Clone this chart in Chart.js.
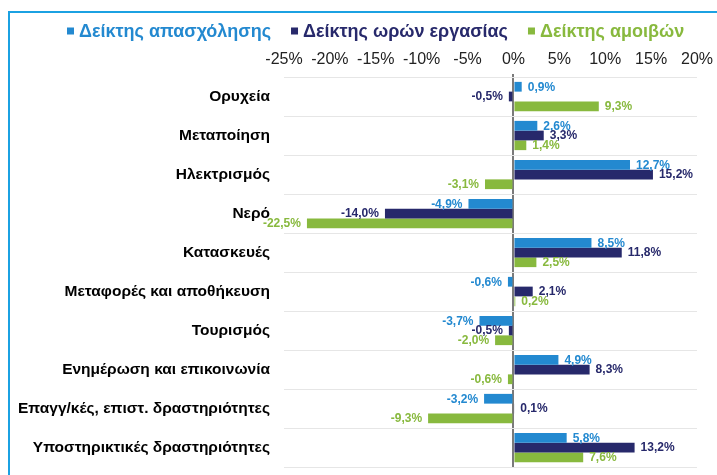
<!DOCTYPE html>
<html><head><meta charset="utf-8">
<script src="https://cdn.jsdelivr.net/npm/chart.js@4"></script>
<style>
html,body{margin:0;padding:0;background:#fff;overflow:hidden}
#wrap{position:absolute;left:0;top:0;width:717px;height:475px}
#frame{position:absolute;left:8px;top:11px;width:800px;height:600px;border-left:2px solid #1BA1E2;border-top:2px solid #1BA1E2}
canvas{position:absolute;left:0;top:0}
</style></head><body>
<div id="wrap"><div id="frame"></div><canvas id="c" width="717" height="475"></canvas></div>
<script>
const categories = ['Ορυχεία','Μεταποίηση','Ηλεκτρισμός','Νερό','Κατασκευές','Μεταφορές και αποθήκευση','Τουρισμός','Ενημέρωση και επικοινωνία','Επαγγ/κές, επιστ. δραστηριότητες','Υποστηρικτικές δραστηριότητες'];
const employment = [0.9, 2.6, 12.7, -4.9, 8.5, -0.6, -3.7, 4.9, -3.2, 5.8];
const hours = [-0.5, 3.3, 15.2, -14.0, 11.8, 2.1, -0.5, 8.3, 0.1, 13.2];
const wages = [9.3, 1.4, -3.1, -22.5, 2.5, 0.2, -2.0, -0.6, -9.3, 7.6];
const seriesNames = ['Δείκτης απασχόλησης','Δείκτης ωρών εργασίας','Δείκτης αμοιβών'];
const seriesColors = ['#2389D0','#27296B','#88B93E'];
const xTicks = [-25,-20,-15,-10,-5,0,5,10,15,20];

const fmt = v => v.toFixed(1).replace('.', ',') + '%';

function hasFont(name) {
  const c = document.createElement('canvas').getContext('2d');
  const s = 'abcdefghijklm0123456789%';
  c.font = '20px monospace';
  const w0 = c.measureText(s).width;
  c.font = '20px "' + name + '", monospace';
  return Math.abs(c.measureText(s).width - w0) > 0.5;
}
const narrow = hasFont('Liberation Sans Narrow');
const tickFont = narrow ? { family: '"Liberation Sans Narrow"', size: 18 } : { family: '"Liberation Sans", Arial, sans-serif', size: 16 };
const labelFontCss = narrow ? 'bold 14px "Liberation Sans Narrow"' : 'bold 12px "Liberation Sans", Arial, sans-serif';

const valueLabels = {
  id: 'valueLabels',
  afterDatasetsDraw(chart) {
    const ctx = chart.ctx;
    ctx.save();
    ctx.font = labelFontCss;
    ctx.textBaseline = 'middle';
    chart.data.datasets.forEach((ds, i) => {
      const meta = chart.getDatasetMeta(i);
      meta.data.forEach((el, j) => {
        const v = ds.data[j];
        ctx.fillStyle = ds.backgroundColor;
        if (v >= 0) { ctx.textAlign = 'left'; ctx.fillText(fmt(v), el.x + 6, el.y + 0.5); }
        else { ctx.textAlign = 'right'; ctx.fillText(fmt(v), el.x - 6, el.y + 0.5); }
      });
    });
    ctx.restore();
  }
};

const customLegend = {
  id: 'customLegend',
  afterDraw(chart) {
    const ctx = chart.ctx;
    ctx.save();
    ctx.font = 'bold 18px "Liberation Sans", Arial, sans-serif';
    ctx.textBaseline = 'middle';
    ctx.textAlign = 'left';
    let x = 67;
    const y = 31;
    chart.data.datasets.forEach(ds => {
      ctx.fillStyle = ds.backgroundColor;
      ctx.fillRect(x, y - 3.5, 7, 7);
      const t = ds.label;
      ctx.fillText(t, x + 12, y + 1);
      x += 12 + ctx.measureText(t).width + 20;
    });
    ctx.restore();
  }
};

new Chart(document.getElementById('c'), {
  type: 'bar',
  data: {
    labels: categories,
    datasets: [
      { label: seriesNames[0], data: employment, backgroundColor: seriesColors[0] },
      { label: seriesNames[1], data: hours, backgroundColor: seriesColors[1] },
      { label: seriesNames[2], data: wages, backgroundColor: seriesColors[2] }
    ]
  },
  options: {
    indexAxis: 'y',
    responsive: false,
    animation: false,
    devicePixelRatio: 1,
    layout: { padding: { left: 0, right: 20, top: 0, bottom: 8 } },
    datasets: { bar: { categoryPercentage: 0.75, barPercentage: 1.0 } },
    plugins: { legend: { display: false }, tooltip: { enabled: false } },
    scales: {
      x: {
        position: 'top',
        min: -25, max: 20,
        afterBuildTicks: s => { s.ticks = xTicks.map(v => ({ value: v })); },
        afterFit: s => { s.height = 77; s.paddingLeft = 0; s.paddingRight = 0; },
        border: { display: false },
        grid: {
          drawTicks: true, tickLength: 3,
          color: c => (c.tick && c.tick.value === 0) ? '#7a7a7a' : 'rgba(0,0,0,0)',
          lineWidth: 2
        },
        ticks: {
          padding: 5,
          color: '#222',
          font: tickFont,
          callback: v => v + '%'
        }
      },
      y: {
        afterFit: s => { s.width = 284; s.paddingTop = 0; s.paddingBottom = 0; },
        border: { display: false },
        grid: { drawTicks: false, color: '#e6e6e6', lineWidth: 1, offset: true },
        ticks: {
          padding: 14,
          color: '#000',
          font: { family: '"Liberation Sans", Arial, sans-serif', size: 15.5, weight: 'bold' }
        }
      }
    }
  },
  plugins: [valueLabels, customLegend]
});
</script>
</body></html>
